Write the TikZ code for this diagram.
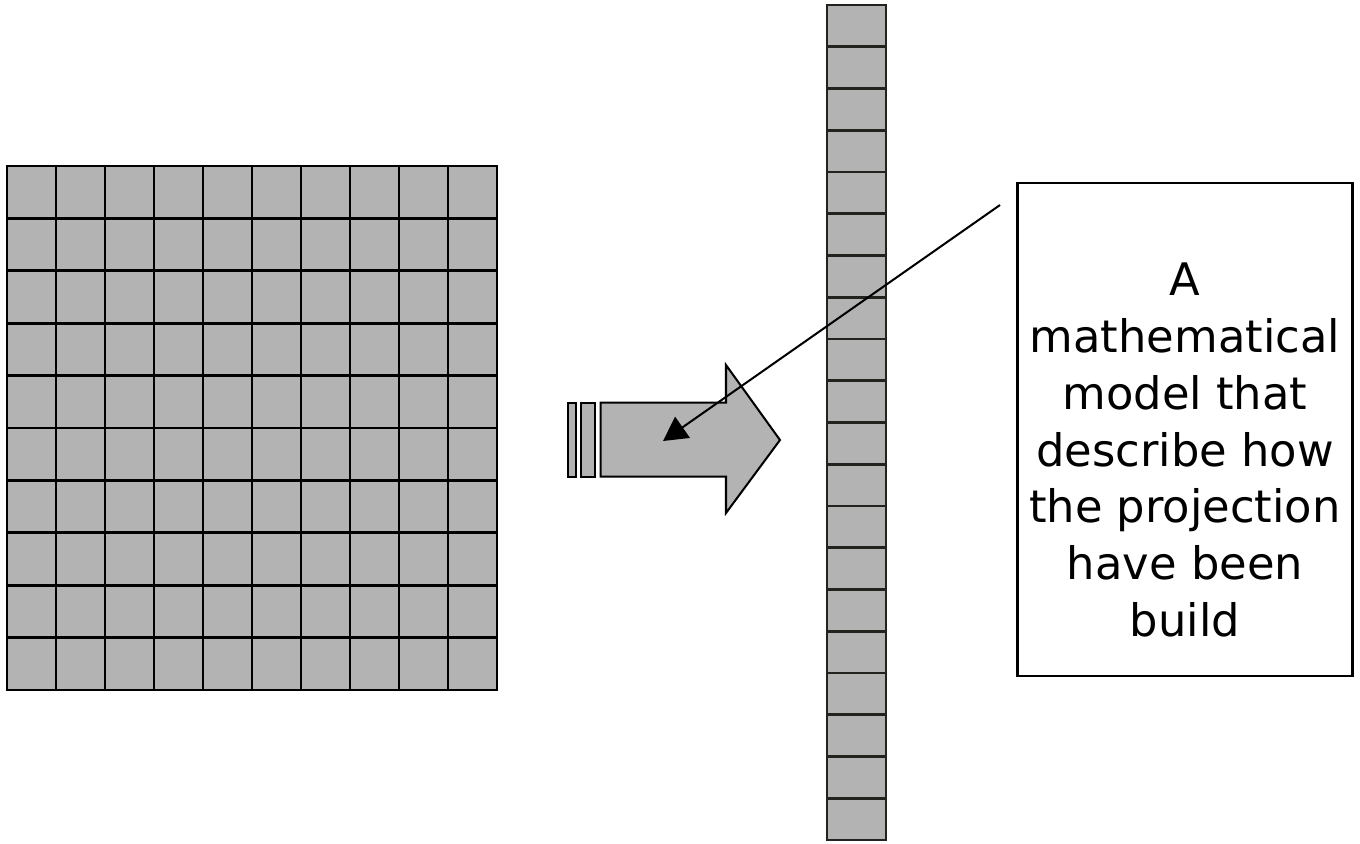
\documentclass[tikz,border=0pt]{standalone}
\usepackage{fontspec}
\setmainfont{DejaVu Sans}
\usetikzlibrary{arrows.meta}
\definecolor{cellgray}{RGB}{179,179,179}
\definecolor{edgedark}{RGB}{34,34,30}
\tikzset{
  cell/.style={fill=cellgray,draw=black,line width=1.6pt},
  colcell/.style={fill=cellgray,draw=edgedark,line width=1.6pt},
  bigarrow/.style={fill=cellgray,draw=black,line width=1.15pt,line join=miter},
  notebox/.style={draw=black,line width=1.4pt,fill=white,minimum width=190.5pt,minimum height=280.6pt,inner sep=0pt},
  pointer/.style={draw=black,line width=1.15pt,-{Triangle[length=13.6pt,width=14.5pt]}},
  notetext/.style={align=center,font=\fontsize{25.5}{32.3}\selectfont}
}
\begin{document}
\begin{tikzpicture}[x=0.02cm,y=-0.02cm]
\useasboundingbox (0,0) rectangle (1360,843);
% 10 x 10 input grid
\foreach \i in {0,...,9}{
  \foreach \j in {0,...,9}{
    \draw[cell] ({7+49*\i},{166+52.4*\j}) rectangle ({7+49*(\i+1)},{166+52.4*(\j+1)});
  }
}
% projection column of 20 cells
\foreach \j in {0,...,19}{
  \draw[colcell] (827,{5+41.75*\j}) rectangle (886,{5+41.75*(\j+1)});
}
% block arrow with two tail bars
\draw[bigarrow] (567.7,402.7) rectangle (575.7,476.7);
\draw[bigarrow] (580.7,402.7) rectangle (595,476.7);
\draw[bigarrow] (600.7,402.7) -- (726,402.7) -- (726,365) -- (780,440)
  -- (726,513) -- (726,476.7) -- (600.7,476.7) -- cycle;
\coordinate (target) at (663,441);
% note box
\node[notebox] (note) at (1185,429.5) {};
\node[notetext] (notetxt) at (1185,450) {A\\mathematical\\model that\\describe how\\the projection\\have been\\build};
\coordinate (start) at (1000,205);
\draw[pointer] (start) -- (target);
\end{tikzpicture}
\end{document}
